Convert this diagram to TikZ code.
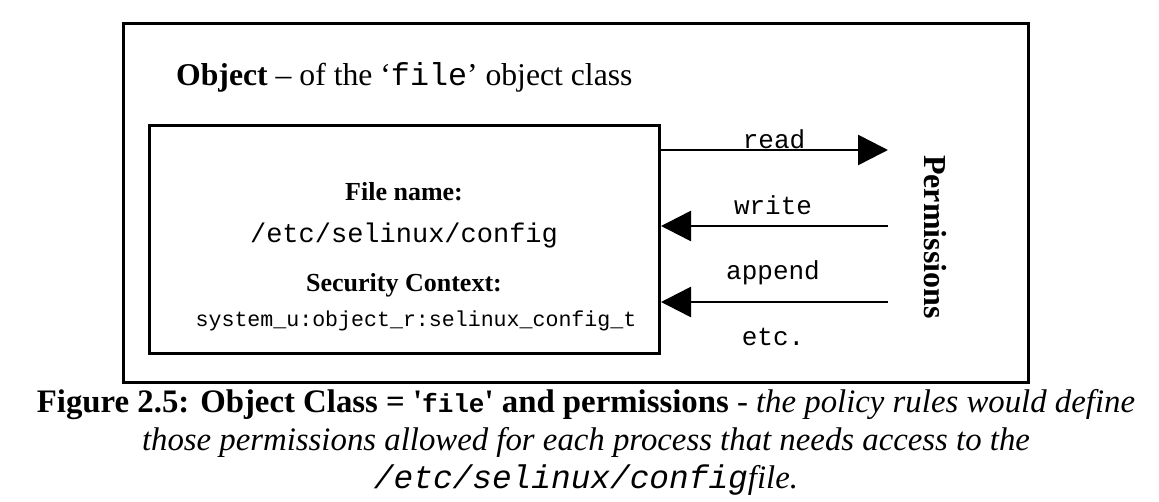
\documentclass[tikz,border=0pt]{standalone}
\usepackage{fontspec}
\setmainfont{Liberation Serif}
\setmonofont{Liberation Mono}
\usetikzlibrary{arrows.meta}
\newcommand{\capmono}[1]{{\ttfamily\fontsize{26}{30}\selectfont #1}}
\begin{document}
\begin{tikzpicture}[x=1pt,y=-1pt,
  box/.style={draw, line width=3pt, inner sep=0pt, anchor=north west},
  arr/.style={line width=2.6pt, -{Triangle[length=30pt,width=30pt]}},
  lbl/.style={font=\ttfamily\fontsize{26}{30}\selectfont, inner sep=0pt, anchor=base},
  bl/.style={font=\bfseries\fontsize{26}{30}\selectfont, inner sep=0pt, anchor=base}]
\useasboundingbox (0,0) rectangle (1159,502);
\node[box, minimum width=905pt, minimum height=359pt] (outer) at (122,22) {};
\node[box, minimum width=510pt, minimum height=228pt] (file) at (148,124) {};
\node[inner sep=0pt, anchor=base west, font=\fontsize{31.7}{34}\selectfont] (title) at (176,86)
  {\textbf{Object} -- of the `\texttt{file}' object class};
\node[bl] (fn) at (404,201) {File name:};
\node[lbl, font=\ttfamily\fontsize{27}{30}\selectfont] (path) at (404,243) {/etc/selinux/config};
\node[bl] (sc) at (404,292) {Security Context:};
\node[lbl, font=\ttfamily\fontsize{21.6}{26}\selectfont] (ctx) at (416,327) {system\_u:object\_r:selinux\_config\_t};
\node[inner sep=0pt, rotate=-90, font=\bfseries\fontsize{32}{36}\selectfont] (perm) at (935,237) {Permissions};
\coordinate (rd) at (888,150);
\coordinate (wr) at (888,226);
\coordinate (ap) at (888,302);
\draw[arr] (rd -| file.east) -- (rd);
\draw[arr] (wr) -- (wr -| file.east);
\draw[arr] (ap) -- (ap -| file.east);
\node[lbl] (lread) at (774,149) {read};
\node[lbl] (lwrite) at (773,215) {write};
\node[lbl] (lappend) at (773,280) {append};
\node[lbl] (letc) at (773,346) {etc.};
\node[inner sep=0pt, align=center, anchor=north, font=\fontsize{32.8}{38}\selectfont] (cap) at (586,389)
  {\textbf{Figure 2.5: Object Class = \textquotesingle\capmono{file}\textquotesingle{} and permissions} - \textit{the policy rules would define}\\
   \textit{those permissions allowed for each process that needs access to the}\\
   \textit{\texttt{/etc/selinux/config}file.}};
\end{tikzpicture}
\end{document}
